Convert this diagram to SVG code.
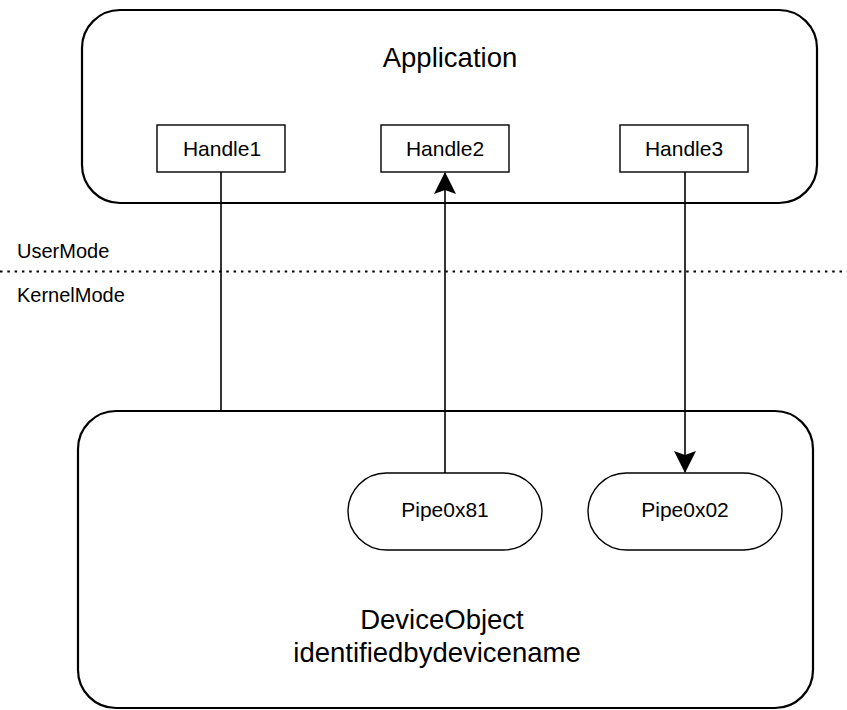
<svg xmlns="http://www.w3.org/2000/svg" width="847" height="710" viewBox="0 0 847 710">
<style>
text{font-family:"Liberation Sans",Arial,sans-serif;fill:#000}
.big{fill:#fff;stroke:#000;stroke-width:2.2}
.box{fill:#fff;stroke:#000;stroke-width:1.4}
.conn{stroke:#000;stroke-width:1.6;fill:none}
.t21{font-size:21px;text-anchor:middle}
.t28{font-size:27.5px;text-anchor:middle}
.lbl{font-size:20px}
</style>
<defs>
<marker id="ah" viewBox="0 0 22 22" refX="21" refY="11" markerWidth="22" markerHeight="22" markerUnits="userSpaceOnUse" orient="auto">
<path d="M0,0 L22,11 L0,22 L4,11 Z" fill="#000"/>
</marker>
</defs>
<g id="application">
<rect class="big" x="82" y="10" width="735" height="193" rx="38" ry="38"/>
<text class="t28" x="450" y="67">Application</text>
</g>
<g id="handle1">
<rect class="box" x="157" y="125" width="128" height="47"/>
<text class="t21" x="222" y="156">Handle1</text>
</g>
<g id="handle2">
<rect class="box" x="381" y="125" width="128" height="47"/>
<text class="t21" x="445" y="156">Handle2</text>
</g>
<g id="handle3">
<rect class="box" x="620" y="125" width="128" height="47"/>
<text class="t21" x="684" y="156">Handle3</text>
</g>
<g id="modes">
<line x1="0" y1="271.5" x2="847" y2="271.5" stroke="#000" stroke-width="2" stroke-dasharray="2.5,4.8"/>
<text class="lbl" x="17" y="258">UserMode</text>
<text class="lbl" x="17" y="302">KernelMode</text>
</g>
<g id="device">
<rect class="big" x="78" y="411" width="735" height="297" rx="38" ry="38"/>
<text class="t28" x="442" y="629">DeviceObject</text>
<text class="t28" x="437" y="662">identifiedbydevicename</text>
</g>
<g id="pipe81">
<rect class="box" x="348" y="473" width="194" height="77" rx="38.5" ry="38.5"/>
<text class="t21" x="445" y="517">Pipe0x81</text>
</g>
<g id="pipe02">
<rect class="box" x="588" y="473" width="194" height="77" rx="38.5" ry="38.5"/>
<text class="t21" x="685" y="517">Pipe0x02</text>
</g>
<g id="connectors">
<line class="conn" x1="221" y1="172" x2="221" y2="411"/>
<line class="conn" x1="445" y1="473" x2="445" y2="173" marker-end="url(#ah)"/>
<line class="conn" x1="685" y1="172" x2="685" y2="472" marker-end="url(#ah)"/>
</g>
</svg>
